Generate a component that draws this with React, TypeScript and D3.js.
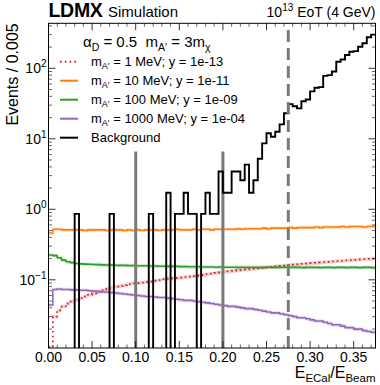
import React from 'react';
import * as d3 from 'd3';

// ---------- data ----------
const binWidth = 0.005;
const binEdges: number[] = d3.range(0, 76).map((i) => +(i * binWidth).toFixed(3));

const sig1MeV = [0.011, 0.030, 0.037, 0.042, 0.046, 0.049, 0.052, 0.055, 0.058, 0.061, 0.064, 0.068, 0.071, 0.074, 0.077, 0.080, 0.082, 0.084, 0.087, 0.089, 0.090, 0.091, 0.093, 0.094, 0.097, 0.099, 0.102, 0.104, 0.105, 0.106, 0.107, 0.109, 0.111, 0.113, 0.115, 0.117, 0.120, 0.122, 0.125, 0.127, 0.130, 0.132, 0.134, 0.136, 0.138, 0.140, 0.142, 0.144, 0.146, 0.148, 0.150, 0.152, 0.155, 0.157, 0.159, 0.162, 0.164, 0.166, 0.168, 0.170, 0.172, 0.174, 0.176, 0.178, 0.180, 0.182, 0.184, 0.186, 0.188, 0.190, 0.192, 0.194, 0.196, 0.198, 0.200];

const sig10MeV = [0.46, 0.52, 0.52, 0.51, 0.51, 0.51, 0.51, 0.51, 0.50, 0.51, 0.51, 0.51, 0.51, 0.50, 0.51, 0.51, 0.51, 0.50, 0.51, 0.50, 0.51, 0.50, 0.51, 0.51, 0.51, 0.50, 0.51, 0.51, 0.51, 0.52, 0.51, 0.51, 0.51, 0.52, 0.51, 0.52, 0.52, 0.51, 0.52, 0.52, 0.52, 0.52, 0.52, 0.53, 0.52, 0.53, 0.53, 0.53, 0.53, 0.54, 0.53, 0.54, 0.54, 0.54, 0.54, 0.55, 0.54, 0.55, 0.55, 0.55, 0.55, 0.56, 0.55, 0.56, 0.56, 0.56, 0.56, 0.57, 0.56, 0.57, 0.57, 0.57, 0.56, 0.57, 0.57];

const sig100MeV = [0.225, 0.22, 0.205, 0.19, 0.18, 0.175, 0.17, 0.168, 0.167, 0.166, 0.165, 0.164, 0.163, 0.162, 0.162, 0.161, 0.16, 0.16, 0.159, 0.159, 0.158, 0.158, 0.158, 0.157, 0.157, 0.156, 0.156, 0.155, 0.155, 0.155, 0.154, 0.154, 0.153, 0.153, 0.153, 0.152, 0.152, 0.152, 0.151, 0.152, 0.151, 0.151, 0.151, 0.150, 0.151, 0.150, 0.151, 0.150, 0.150, 0.150, 0.151, 0.150, 0.150, 0.150, 0.151, 0.150, 0.150, 0.150, 0.149, 0.150, 0.150, 0.150, 0.149, 0.150, 0.150, 0.149, 0.150, 0.150, 0.149, 0.150, 0.150, 0.149, 0.150, 0.150, 0.149];

const sig1000MeV = [0.044, 0.073, 0.074, 0.073, 0.073, 0.072, 0.072, 0.071, 0.071, 0.070, 0.069, 0.068, 0.067, 0.067, 0.066, 0.065, 0.064, 0.063, 0.062, 0.061, 0.060, 0.059, 0.058, 0.058, 0.057, 0.056, 0.056, 0.055, 0.054, 0.053, 0.052, 0.051, 0.051, 0.050, 0.049, 0.048, 0.047, 0.046, 0.045, 0.044, 0.043, 0.042, 0.042, 0.041, 0.040, 0.039, 0.039, 0.038, 0.037, 0.036, 0.035, 0.034, 0.034, 0.033, 0.032, 0.031, 0.030, 0.029, 0.029, 0.028, 0.027, 0.026, 0.026, 0.025, 0.024, 0.023, 0.023, 0.022, 0.021, 0.021, 0.020, 0.020, 0.019, 0.0185, 0.018];

const background = [0, 0, 0, 0, 0, 0, 0.86, 0, 0, 0, 0, 0, 0, 0, 0.86, 0, 0, 0, 0, 0, 0, 0, 0, 0.86, 0, 0, 0, 1.72, 0, 0.86, 0.86, 1.72, 0.86, 0.86, 0, 0.86, 1.72, 0.86, 0.86, 3.44, 1.72, 1.72, 3.44, 3.44, 2.58, 4.3, 1.72, 2.58, 5.2, 8.6, 12, 10.7, 12.6, 16, 23, 31, 29, 27, 34, 36, 47, 53, 54, 78, 80, 90, 124, 133, 154, 172, 175, 202, 226, 275, 300];

const xTickValues = [0, 0.05, 0.1, 0.15, 0.2, 0.25, 0.3, 0.35];
const xTickLabels = ['0.00', '0.05', '0.10', '0.15', '0.20', '0.25', '0.30', '0.35'];
const yTickValues = [0.1, 1, 10, 100];
const yTickExponents = ['\u22121', '0', '1', '2'];
const cutLines = [0.1, 0.2];
const cutLineTop = 6.6;
const dashedCut = 0.275;

const signals = [
  { label: '1 MeV; y = 1e-13', data: sig1MeV, color: '#d62728', dotted: true },
  { label: '10 MeV; y = 1e-11', data: sig10MeV, color: '#ff7f0e', dotted: false },
  { label: '100 MeV; y = 1e-09', data: sig100MeV, color: '#2ca02c', dotted: false },
  { label: '1000 MeV; y = 1e-04', data: sig1000MeV, color: '#9467bd', dotted: false },
];

// ---------- layout ----------
const W = 380, H = 385;
const L = 48.5, R = 375.5, T = 23.3, B = 348;
const FONT = "'Liberation Sans', Arial, Helvetica, sans-serif";

export default function App() {
  const x = d3.scaleLinear().domain([0, 0.375]).range([L, R]);
  const y = d3.scaleLog().domain([0.01078, 434.6]).range([B, T]);
  const yv = (v: number) => (v > 0 ? y(v) : B + 30);

  const stepPts = (data: number[]) => {
    const pts: [number, number][] = data.map((v, i) => [binEdges[i], v]);
    pts.push([binEdges[data.length], data[data.length - 1]]);
    return pts;
  };
  const line = d3.line<[number, number]>().x((d) => x(d[0])).y((d) => yv(d[1])).curve(d3.curveStepAfter);
  const band = d3.area<[number, number]>()
    .x((d) => x(d[0]))
    .y0((d) => yv(d[1] * 0.94))
    .y1((d) => yv(d[1] * 1.06))
    .curve(d3.curveStepAfter);

  const xMinor = d3.range(0, 0.3751, 0.01).filter((v) => !xTickValues.some((m) => Math.abs(m - v) < 1e-6));
  const yMinor: number[] = [];
  for (let e = -2; e <= 2; e++) for (let k = 2; k <= 9; k++) {
    const v = k * Math.pow(10, e);
    if (v > 0.01078 && v < 434.6) yMinor.push(v);
  }

  const bgPts = stepPts(background);

  const legendY0 = 61.7, legendDy = 19;

  return (
    <svg width={W} height={H} style={{ position: 'absolute', left: 0, top: 0, background: '#fff' }} fontFamily={FONT}>
      <defs>
        <clipPath id="plotclip">
          <rect x={L} y={T} width={R - L} height={B - T} />
        </clipPath>
      </defs>
      <rect x={0} y={0} width={W} height={H} fill="#fff" />
      <g clipPath="url(#plotclip)">
        {signals.map((s) => (
          <path key={'b' + s.label} d={band(stepPts(s.data)) || ''} fill={s.color} fillOpacity={0.22} stroke="none" />
        ))}
        {signals.map((s) => (
          <path key={'l' + s.label} d={line(stepPts(s.data)) || ''} fill="none" stroke={s.color}
            strokeWidth={s.dotted ? 1.8 : 1.6} strokeDasharray={s.dotted ? '1.6 3.2' : undefined} />
        ))}
        {cutLines.map((c) => (
          <line key={c} x1={x(c)} x2={x(c)} y1={B} y2={y(cutLineTop)} stroke="#7a7a7a" strokeWidth={3} />
        ))}
        <path d={line(bgPts) || ''} fill="none" stroke="#000" strokeWidth={1.9} />
        <line x1={x(dashedCut)} x2={x(dashedCut)} y1={B} y2={T} stroke="#7a7a7a" strokeWidth={3} strokeDasharray="12 6" />
      </g>

      {/* frame */}
      <rect x={L} y={T} width={R - L} height={B - T} fill="none" stroke="#000" strokeWidth={1} />

      {/* x ticks */}
      {xTickValues.map((v, i) => (
        <g key={'xt' + v}>
          <line x1={x(v)} x2={x(v)} y1={B} y2={B - 7} stroke="#000" strokeWidth={0.8} />
          <line x1={x(v)} x2={x(v)} y1={T} y2={T + 7} stroke="#000" strokeWidth={0.8} />
          <text x={x(v)} y={361.5} fontSize={14} textAnchor="middle">{xTickLabels[i]}</text>
        </g>
      ))}
      {xMinor.map((v) => (
        <g key={'xm' + v}>
          <line x1={x(v)} x2={x(v)} y1={B} y2={B - 3.5} stroke="#000" strokeWidth={0.6} />
          <line x1={x(v)} x2={x(v)} y1={T} y2={T + 3.5} stroke="#000" strokeWidth={0.6} />
        </g>
      ))}

      {/* y ticks */}
      {yTickValues.map((v, i) => (
        <g key={'yt' + v}>
          <line x1={L} x2={L + 7} y1={y(v)} y2={y(v)} stroke="#000" strokeWidth={0.8} />
          <line x1={R} x2={R - 7} y1={y(v)} y2={y(v)} stroke="#000" strokeWidth={0.8} />
          <text x={46.5} y={y(v) + 5} fontSize={14} textAnchor="end">
            10<tspan fontSize={10} dy={-6}>{yTickExponents[i]}</tspan>
          </text>
        </g>
      ))}
      {yMinor.map((v) => (
        <g key={'ym' + v}>
          <line x1={L} x2={L + 3.5} y1={y(v)} y2={y(v)} stroke="#000" strokeWidth={0.6} />
          <line x1={R} x2={R - 3.5} y1={y(v)} y2={y(v)} stroke="#000" strokeWidth={0.6} />
        </g>
      ))}

      {/* axis labels */}
      <text transform={`translate(17.5, ${T}) rotate(-90)`} fontSize={16} textAnchor="end">Events / 0.005</text>
      <text x={R} y={378} fontSize={16} textAnchor="end">
        E<tspan fontSize={11.5} dy={4}>ECal</tspan><tspan dy={-4}>/E</tspan><tspan fontSize={11.5} dy={4}>Beam</tspan>
      </text>

      {/* header */}
      <text x={L} y={16.7} fontSize={19.5} fontWeight="bold" letterSpacing={-0.3}>LDMX</text>
      <text x={108} y={16.7} fontSize={15}>Simulation</text>
      <text x={R} y={16.7} fontSize={14} textAnchor="end">
        10<tspan fontSize={10} dy={-5.5}>13</tspan><tspan dy={5.5}> EoT (4 GeV)</tspan>
      </text>

      {/* legend */}
      <text x={83} y={46.7} fontSize={15} style={{ whiteSpace: 'pre' }}>
        α<tspan fontSize={10.5} dy={4}>D</tspan><tspan dy={-4}> = 0.5  m</tspan><tspan fontSize={10.5} dy={4}>A′</tspan><tspan dy={-4}> = 3m</tspan><tspan fontSize={10.5} dy={4}>χ</tspan>
      </text>
      {signals.map((s, i) => {
        const ly = legendY0 + i * legendDy;
        return (
          <g key={'lg' + s.label}>
            <line x1={60} x2={78} y1={ly} y2={ly} stroke={s.color} strokeWidth={2}
              strokeDasharray={s.dotted ? '1.6 3.2' : undefined} />
            <text x={91} y={ly + 4.7} fontSize={13}>
              m<tspan fontSize={9} dy={3}>A′</tspan><tspan dy={-3}> = {s.label}</tspan>
            </text>
          </g>
        );
      })}
      <line x1={60} x2={78} y1={legendY0 + 4 * legendDy} y2={legendY0 + 4 * legendDy} stroke="#000" strokeWidth={2} />
      <text x={91} y={legendY0 + 4 * legendDy + 4.7} fontSize={13}>Background</text>
    </svg>
  );
}
